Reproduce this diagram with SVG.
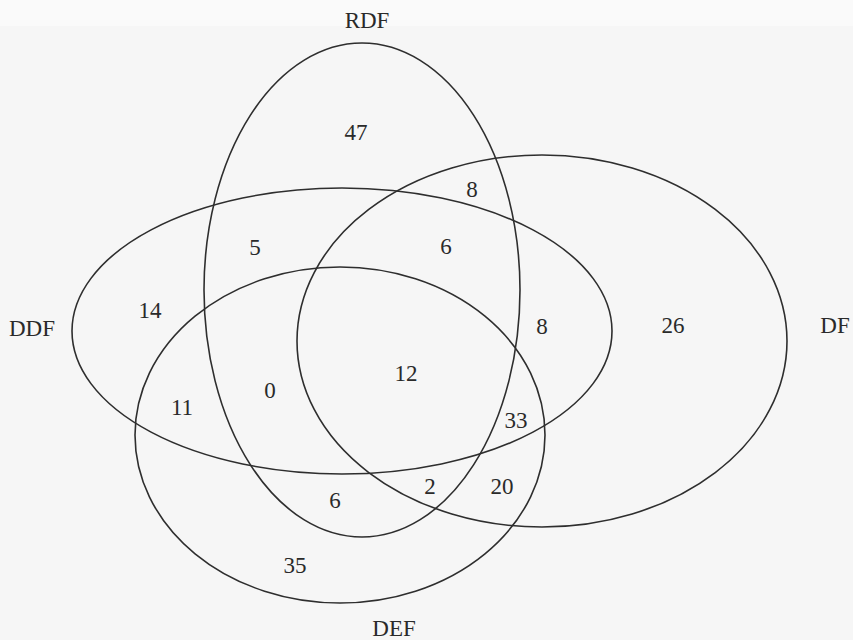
<svg xmlns="http://www.w3.org/2000/svg" width="853" height="640" viewBox="0 0 853 640">
<style>
.set{fill:none;stroke:#2e2e2e;stroke-width:1.6}
.lbl{font-family:"Liberation Serif","Times New Roman",serif;font-size:23px;fill:#2a2a2a;text-anchor:middle}
</style>
<rect width="853" height="640" fill="#f6f6f6"/>
<rect width="853" height="26" fill="#fafafa"/>
<g id="set-RDF">
<ellipse class="set" cx="362" cy="290" rx="158" ry="247"/>
<text class="lbl" x="367" y="28">RDF</text>
</g>
<g id="set-DDF">
<ellipse class="set" cx="342" cy="331" rx="270" ry="143"/>
<text class="lbl" x="32" y="336">DDF</text>
</g>
<g id="set-DF">
<ellipse class="set" cx="542" cy="341" rx="245" ry="186"/>
<text class="lbl" x="835" y="333">DF</text>
</g>
<g id="set-DEF">
<ellipse class="set" cx="340" cy="435" rx="205" ry="168"/>
<text class="lbl" x="394" y="636">DEF</text>
</g>
<g id="counts">
<text class="lbl" x="356" y="140">47</text>
<text class="lbl" x="472" y="197">8</text>
<text class="lbl" x="255" y="255">5</text>
<text class="lbl" x="446" y="254">6</text>
<text class="lbl" x="150" y="318">14</text>
<text class="lbl" x="542" y="334">8</text>
<text class="lbl" x="673" y="333">26</text>
<text class="lbl" x="406" y="381">12</text>
<text class="lbl" x="270" y="398">0</text>
<text class="lbl" x="182" y="415">11</text>
<text class="lbl" x="516" y="428">33</text>
<text class="lbl" x="430" y="494">2</text>
<text class="lbl" x="502" y="494">20</text>
<text class="lbl" x="335" y="508">6</text>
<text class="lbl" x="295" y="573">35</text>
</g>
<g id="connectors"/>
</svg>
